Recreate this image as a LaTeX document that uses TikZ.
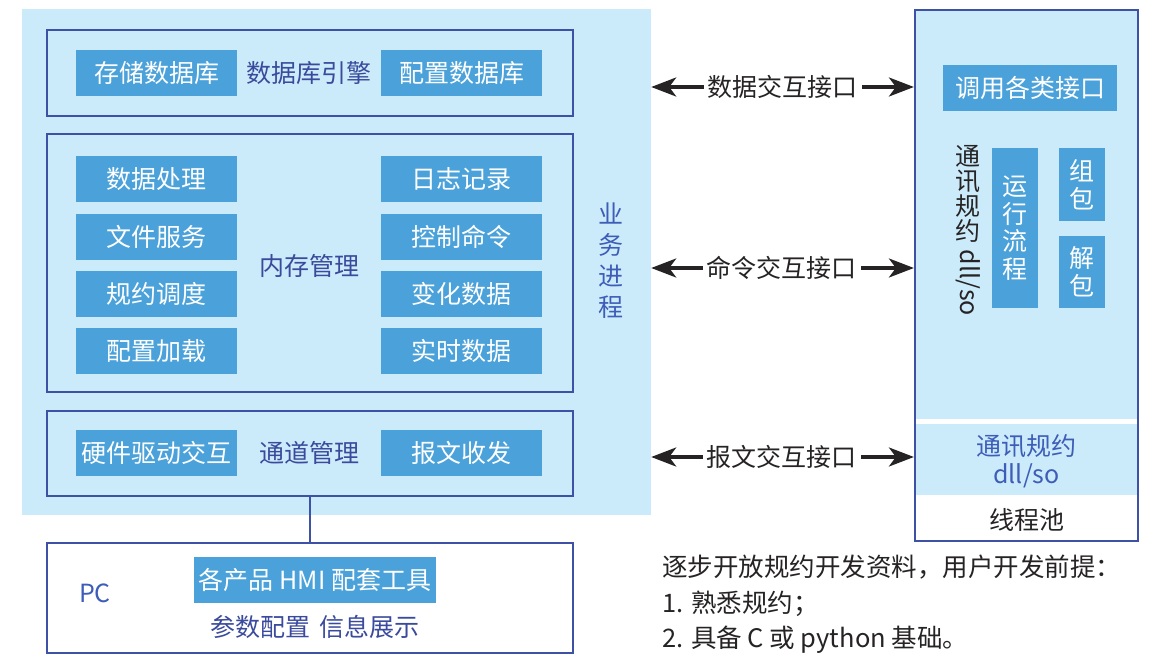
\documentclass[tikz,border=0pt]{standalone}
\usepackage{fontspec}
\setmainfont{Noto Sans CJK SC}
\usetikzlibrary{arrows.meta}
\definecolor{bgblue}{HTML}{CCEBFA}
\definecolor{midblue}{HTML}{4BA2DA}
\definecolor{edgeblue}{HTML}{3D52A6}
\definecolor{dtext}{HTML}{3A4A9C}
\definecolor{btext}{HTML}{3D5DB8}
\definecolor{ink}{HTML}{262324}
\begin{document}
\begin{tikzpicture}[x=1pt,y=-1pt,
  txt/.style={font=\fontsize{25}{28}\selectfont, inner sep=0pt},
  fbox/.style={txt, fill=midblue, text=white, minimum width=161pt, minimum height=46pt},
  frame/.style={draw=edgeblue, line width=2.2pt, minimum width=526pt},
  arr/.style={line width=3.4pt, draw=ink, -{Stealth[length=25pt,width=19pt,inset=7pt]}},
  lbl/.style={txt, text=ink},
  vstack/.style={txt, align=center, font=\fontsize{25}{#1}\selectfont}
]
\useasboundingbox (0,0) rectangle (1153,655);
% background of business process
\node[fill=bgblue, minimum width=629pt, minimum height=506pt, inner sep=0pt] (bg) at (336.5,262) {};

% database engine
\node[frame, minimum height=86pt] (eng) at (310,73) {};
\node[fbox] (db1) at (156.5,73) {存储数据库};
\node[txt, text=dtext] (engl) at (309,73) {数据库引擎};
\node[fbox] (db2) at (461.5,73) {配置数据库};

% memory management
\node[frame, minimum height=258pt] (mem) at (310,263) {};
\node[fbox] (m1) at (156.5,179) {数据处理};
\node[fbox] (m2) at (156.5,237) {文件服务};
\node[fbox] (m3) at (156.5,294) {规约调度};
\node[fbox] (m4) at (156.5,351) {配置加载};
\node[fbox] (m5) at (461.5,179) {日志记录};
\node[fbox] (m6) at (461.5,237) {控制命令};
\node[fbox] (m7) at (461.5,294) {变化数据};
\node[fbox] (m8) at (461.5,351) {实时数据};
\node[txt, text=dtext] (meml) at (309,266) {内存管理};

% business process label
\node[vstack=31, text=btext] (biz) at (611,261) {业\\务\\进\\程};

% channel management
\node[frame, minimum height=85pt] (chan) at (310,453.5) {};
\node[fbox] (c1) at (156.5,453) {硬件驱动交互};
\node[txt, text=dtext] (chanl) at (309,453) {通道管理};
\node[fbox] (c2) at (461.5,453) {报文收发};

% PC
\node[frame, minimum height=110pt] (pc) at (310,598) {};
\node[txt, text=btext] (pcl) at (95,593) {PC};
\node[txt, fill=midblue, text=white, minimum width=242pt, minimum height=46pt] (hmi) at (315,580) {各产品 HMI 配套工具};
\node[txt, text=dtext] (hmil) at (315,627) {参数配置\hspace{0.4em}信息展示};
\draw[draw=edgeblue, line width=2.2pt] (chan.south) -- (pc.north);

% right box
\fill[bgblue] (915,10) rectangle (1138,419);
\fill[bgblue] (915,424) rectangle (1138,495);
\node[draw=edgeblue, line width=2.2pt, minimum width=223pt, minimum height=531pt, inner sep=0pt] (rb) at (1026.5,275.5) {};
\node[txt, fill=midblue, text=white, minimum width=174pt, minimum height=46pt] (call) at (1030,88) {调用各类接口};
\node[vstack=25, text=ink, anchor=north] (proto) at (968,145) {通\\讯\\规\\约};
\node[txt, text=ink, rotate=-90, anchor=west] (protodll) at ([yshift=-7pt]proto.south) {dll/so};
\node[vstack=27.5, fill=midblue, text=white, minimum width=46pt, minimum height=160pt] (run) at (1015,228) {运\\行\\流\\程};
\node[vstack=28, fill=midblue, text=white, minimum width=46pt, minimum height=73pt] (pack) at (1082,184.5) {组\\包};
\node[vstack=28, fill=midblue, text=white, minimum width=46pt, minimum height=72pt] (unpack) at (1082,272) {解\\包};
\node[vstack=28, text=btext] (dll) at (1026.5,461) {通讯规约\\dll/so};
\node[txt, text=ink] (pool) at (1026.5,520) {线程池};

% interface arrows
\node[lbl] (if1) at (782,87) {数据交互接口};
\node[lbl] (if2) at (781,268) {命令交互接口};
\node[lbl] (if3) at (781,457) {报文交互接口};
\foreach \n in {if1,if2,if3}{
  \draw[arr] ([xshift=-3pt]\n.west) -- (\n.west -| bg.east);
  \draw[arr] ([xshift=5pt]\n.east) -- (\n.east -| rb.west);
}

% notes
\node[lbl, anchor=west, font=\fontsize{25.5}{28}\selectfont] (n1) at (662,567) {逐步开放规约开发资料，用户开发前提：};
\node[lbl, anchor=west, font=\fontsize{25.5}{28}\selectfont] (n2) at (662,604) {1. 熟悉规约；};
\node[lbl, anchor=west, font=\fontsize{25.5}{28}\selectfont] (n3) at (662,640) {2. 具备 C 或 python 基础。};
\end{tikzpicture}
\end{document}
